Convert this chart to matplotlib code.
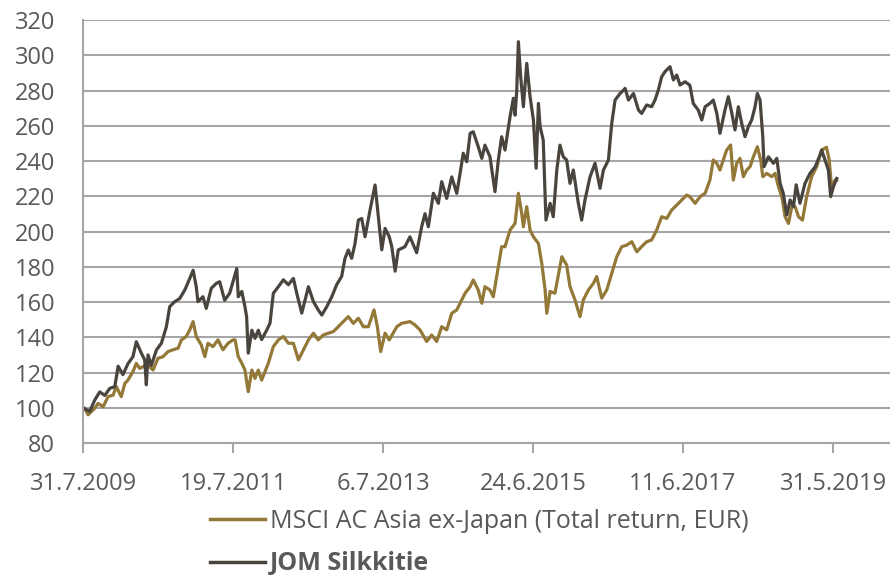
import pandas as pd
import matplotlib
matplotlib.use("Agg")
import matplotlib.pyplot as plt

# days since 31.7.2009 and index values (rebased to 100)
START = pd.Timestamp("2009-07-31")

jom_days = [0, 14, 32, 56, 80, 104, 128, 152, 168, 191, 215, 239, 255, 279, 295, 303, 311, 327, 351, 375,
            399, 415, 439, 463, 487, 511, 527, 542, 550, 574, 590, 614, 638, 654, 678, 702, 736, 743, 760, 775,
            783, 791, 808, 823, 839, 855, 879, 895, 911, 935, 959, 983, 1007, 1023, 1047, 1079, 1103, 1126, 1143, 1167,
            1191, 1214, 1238, 1254, 1270, 1286, 1302, 1318, 1334, 1350, 1374, 1398, 1414, 1430, 1446, 1466, 1478, 1494, 1509, 1541,
            1565, 1597, 1621, 1637, 1653, 1677, 1701, 1717, 1741, 1765, 1789, 1805, 1820, 1837, 1853, 1868, 1892, 1909, 1924, 1948,
            1972, 1988, 2004, 2020, 2044, 2060, 2068, 2076, 2084, 2095, 2108, 2124, 2140, 2156, 2169, 2180, 2188, 2203, 2216, 2236,
            2251, 2268, 2283, 2299, 2315, 2331, 2347, 2371, 2387, 2403, 2427, 2451, 2475, 2491, 2515, 2531, 2547, 2571, 2595, 2611,
            2635, 2659, 2674, 2698, 2722, 2738, 2754, 2770, 2786, 2810, 2826, 2842, 2858, 2882, 2905, 2921, 2945, 2962, 2978, 3001,
            3017, 3034, 3049, 3073, 3089, 3106, 3121, 3137, 3153, 3169, 3185, 3201, 3217, 3228, 3241, 3254, 3260, 3281, 3305, 3321,
            3337, 3352, 3369, 3385, 3401, 3414, 3432, 3456, 3480, 3505, 3528, 3536, 3552, 3568, 3579, 3592, 3608]
jom_values = [100, 99, 98, 104.4, 109, 107, 111, 112, 123.6, 118.8, 125, 129, 137.5, 131, 127.2, 113, 130, 124, 132.7, 136.6,
              146, 157.4, 160.2, 162, 166.8, 173.4, 178, 168.7, 160.2, 163, 156.4, 167.8, 170.6, 171.5, 161, 165, 179, 163, 166, 157.4,
              151.7, 131, 144, 139.4, 144, 138.7, 144, 148, 165, 168.7, 172.6, 169.8, 173.4, 165, 153.7, 168.7, 160.2, 155.5, 152.6, 157.4,
              163, 169.8, 174.5, 184.8, 189.5, 184.8, 193.2, 206.5, 207.4, 197, 212.2, 226.4, 208.3, 189.6, 201.8, 197, 191.4, 177.5, 189.5, 191.4,
              197, 188, 202.7, 210.1, 202.7, 221.7, 216, 228.3, 218.8, 231, 221.7, 233, 244.4, 239.6, 255.7, 256.6, 248.1, 241.5, 249, 242.4,
              222.6, 240.5, 253.8, 246.2, 265.1, 275.6, 266, 279.3, 307.7, 287.8, 270.8, 295.4, 276.5, 263.3, 235.9, 272.7, 259.5, 251.9, 206.5, 216,
              208.4, 234.9, 249, 242.4, 240.6, 227.3, 234.9, 216, 206.5, 218, 231, 238.7, 224.5, 234.9, 240.5, 261.4, 274.6, 278.3, 281.2, 274.6,
              278.3, 268.9, 267, 271.8, 270.8, 274.6, 280.3, 287.8, 290.7, 293.5, 286, 288.8, 283.1, 285, 283, 272.7, 268.9, 263.3, 270.8, 272.7,
              274.6, 267, 255.7, 268.9, 276.5, 267, 257.6, 270.8, 261.4, 253.8, 259.5, 263.3, 270.8, 278.3, 274.6, 253.8, 236.8, 242.4, 238.7, 241.5,
              227.3, 221.7, 209.4, 217.9, 214.1, 226.5, 216, 227.3, 233, 236.8, 243.4, 246.2, 240.6, 234.9, 219.8, 225.4, 230.1]

msci_days = [0, 8, 24, 56, 72, 96, 120, 144, 159, 183, 200, 215, 239, 255, 271, 287, 311, 335, 359, 383,
             407, 431, 455, 471, 494, 511, 527, 542, 566, 583, 598, 622, 646, 670, 694, 718, 728, 743, 760, 775,
             791, 808, 823, 839, 855, 871, 887, 911, 935, 959, 983, 1007, 1031, 1055, 1079, 1103, 1126, 1150, 1174, 1198,
             1222, 1246, 1270, 1294, 1318, 1342, 1366, 1393, 1409, 1425, 1446, 1466, 1502, 1525, 1565, 1589, 1613, 1645, 1669, 1693,
             1717, 1741, 1765, 1789, 1813, 1829, 1853, 1868, 1892, 1909, 1924, 1948, 1964, 1980, 2004, 2020, 2044, 2068, 2084, 2100,
             2108, 2124, 2140, 2156, 2180, 2196, 2212, 2220, 2236, 2259, 2292, 2315, 2331, 2355, 2379, 2395, 2419, 2443, 2459, 2483,
             2507, 2531, 2555, 2579, 2603, 2627, 2651, 2674, 2698, 2722, 2746, 2770, 2794, 2818, 2842, 2866, 2890, 2905, 2930, 2954,
             2978, 3001, 3017, 3034, 3049, 3065, 3081, 3100, 3113, 3129, 3145, 3161, 3177, 3193, 3209, 3228, 3244, 3254, 3273, 3297,
             3313, 3329, 3345, 3361, 3377, 3393, 3409, 3425, 3444, 3464, 3488, 3512, 3536, 3559, 3572, 3584, 3600, 3608]
msci_values = [100, 99.7, 96, 99.7, 102.5, 100.6, 106.3, 107.2, 112, 106.3, 113.8, 115.7, 120.5, 125.2, 122.3, 123.3, 124.3, 121.4, 128.1, 129,
               131.9, 132.9, 133.8, 138.5, 140.4, 144.2, 148.9, 140.4, 135.7, 129, 136.6, 134.7, 138.5, 132.9, 136.6, 138.5, 138.5, 129, 125.3, 121.4,
               109.1, 121.4, 116.7, 121.4, 115.7, 120.5, 125.3, 134.7, 138.5, 140.4, 136.6, 136.6, 127.2, 132.9, 138.5, 142.3, 138.5, 141.3, 142.3, 143.2,
               146, 148.9, 151.7, 147.9, 150.8, 146, 146, 155.5, 146, 131.9, 142.3, 138.5, 146, 147.9, 148.9, 147, 144.2, 137.6, 141.3, 137.6,
               146, 144.2, 153.6, 155.5, 161.2, 165, 168.7, 172.5, 166.8, 159.3, 168.7, 166.8, 163, 174.4, 191.4, 191.4, 200.8, 204.6, 221.7, 210.3,
               202.7, 214.1, 200.8, 197, 193.2, 181.9, 166.8, 153.6, 166, 165, 185.7, 181, 168.7, 161.2, 151.7, 161.2, 166.8, 170.6, 174.4, 162.2,
               166.8, 176.3, 185.7, 191.4, 192.3, 194.2, 188.5, 191.4, 194.2, 195.2, 200.8, 208.4, 207.4, 212.2, 215, 217.9, 220.7, 219.8, 216, 219.8,
               221.7, 229.2, 240.6, 238.7, 234.9, 240.6, 246.2, 249.1, 229.2, 238.7, 241.5, 231.1, 234.9, 236.8, 242.4, 248.1, 240.6, 231.1, 233, 231.1,
               233, 225.4, 219.8, 208.4, 204.6, 214.1, 214.1, 208.4, 206.5, 219.8, 231.1, 236.8, 246.2, 247.8, 240.6, 224.5, 229.2, 229.2]

tick_dates = ["2009-07-31", "2011-07-19", "2013-07-06", "2015-06-24", "2017-06-11", "2019-05-31"]
tick_labels = ["31.7.2009", "19.7.2011", "6.7.2013", "24.6.2015", "11.6.2017", "31.5.2019"]
labels = ["MSCI AC Asia ex-Japan (Total return, EUR)", "JOM Silkkitie"]

GOLD = "#937838"
DARK = "#4a443e"
GRID = "#a6a6a6"
TEXT = "#595959"

plt.rcParams["font.family"] = ["Open Sans", "DejaVu Sans"]

fig = plt.figure(figsize=(8.9, 5.77), dpi=100)
ax = fig.add_axes([0.0933, 0.2322, 0.9067, 0.7331])

jom_x = START + pd.to_timedelta(jom_days, unit="D")
msci_x = START + pd.to_timedelta(msci_days, unit="D")

l1, = ax.plot(msci_x, msci_values, color=GOLD, lw=2.3, solid_joinstyle="round")
l2, = ax.plot(jom_x, jom_values, color=DARK, lw=2.3, solid_joinstyle="round")

ax.set_xlim(START, START + pd.Timedelta(days=3863))
ax.set_ylim(80, 320)
ax.set_yticks(range(80, 321, 20))
ax.set_xticks(pd.to_datetime(tick_dates))
ax.set_xticklabels(tick_labels)

ax.yaxis.grid(True, color=GRID, lw=1.5)
ax.set_axisbelow(True)
for s in ["top", "right"]:
    ax.spines[s].set_visible(False)
for s in ["left", "bottom"]:
    ax.spines[s].set_color(GRID)
    ax.spines[s].set_linewidth(1.5)

ax.tick_params(axis="y", length=0, pad=20, labelsize=17, labelcolor=TEXT)
ax.tick_params(axis="x", length=7, width=1.5, color=GRID, direction="out", pad=14, labelsize=17, labelcolor=TEXT)

# legend below the axes, two rows
leg = fig.legend([l1, l2], labels, loc="upper left", bbox_to_anchor=(0.236, 0.118),
                 frameon=False, fontsize=18, handlelength=2.2, handletextpad=0.2,
                 labelspacing=0.7, borderaxespad=0, borderpad=0)
for txt in leg.get_texts():
    txt.set_color(TEXT)
leg.get_texts()[1].set_fontweight("bold")
for h in leg.legend_handles:
    h.set_linewidth(2.5)

fig.savefig("out.png", dpi=100)
